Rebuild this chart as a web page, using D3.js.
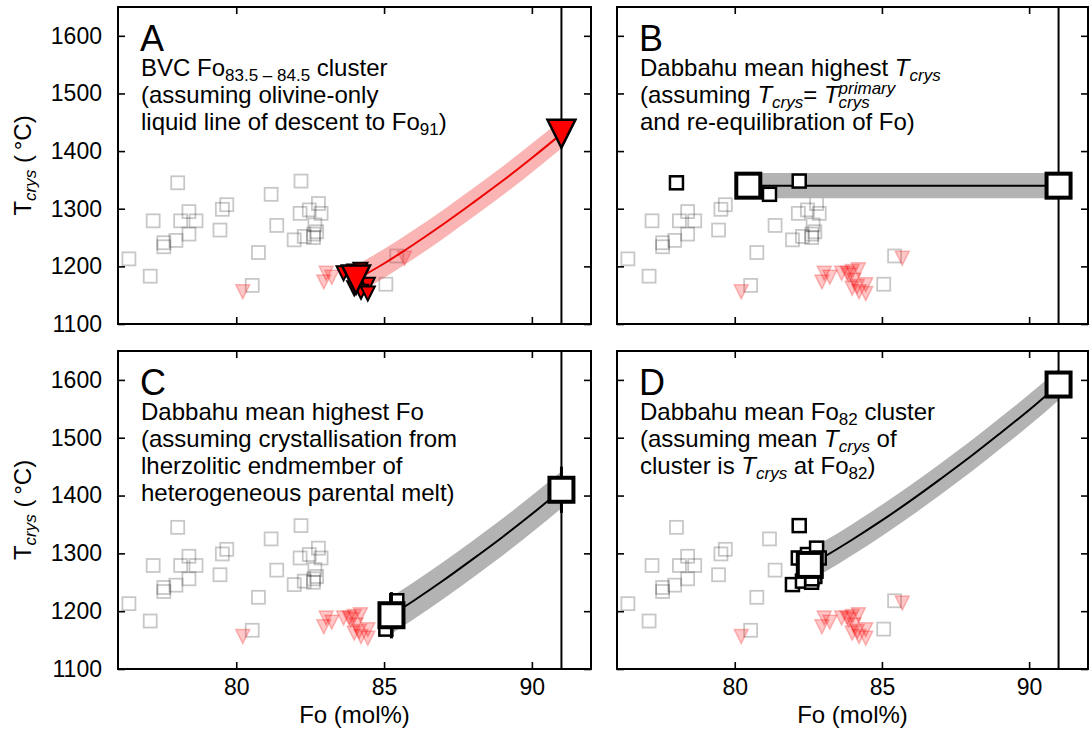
<!DOCTYPE html>
<html><head><meta charset="utf-8">
<script src="https://cdn.jsdelivr.net/npm/d3@7"></script>
<style>body{margin:0;background:#fff} svg{display:block} text{font-family:"Liberation Sans", Arial, Helvetica, sans-serif;fill:#000}</style>
</head><body><svg id="c" width="1091" height="740"></svg>
<script>
// ---------- data ----------
const foTicks = [80, 85, 90];
const tTicks = [1100, 1200, 1300, 1400, 1500, 1600];
const foDomain = [76, 92];
const tDomain = [1100, 1650];
const foPrimary = 91;

// Dabbahu olivine (grey squares)
const dabFo = [78.02, 82.19, 81.18, 77.19, 78.40, 78.12, 78.64, 79.68, 79.53, 78.40, 77.96, 77.55, 77.55, 79.45, 81.37, 80.75, 76.37, 77.09, 80.54, 82.16, 82.47, 82.78, 82.87, 81.96, 82.30, 82.61, 82.72, 82.66, 82.62, 85.06, 85.43];
const dabT  = [1345, 1348, 1325, 1279, 1295, 1279, 1279, 1307, 1299, 1256, 1245, 1241, 1234, 1263, 1271, 1224, 1213, 1183, 1167, 1292, 1298, 1309, 1292, 1246, 1252, 1250, 1260, 1272, 1256, 1169, 1218];
// BVC olivine (red triangles)
const bvcFo = [80.22, 85.69, 83.04, 82.96, 83.23, 83.63, 83.88, 83.99, 84.20, 84.05, 84.16, 84.45, 83.99, 84.22, 84.45, 83.82];
const bvcT  = [1156, 1214, 1188, 1173, 1181, 1188, 1185, 1191, 1194, 1176, 1165, 1168, 1162, 1156, 1153, 1188];

// Panel A: BVC Fo83.5-84.5 cluster
const aClusterFo = [83.5, 84.5];
const aEndFo = [84.05, 91];
const aEndT = [1177, 1430];
const aCurveFo = [84.05, 85, 86, 87, 88, 89, 90, 91];
const aCurveT = [1177, 1205, 1238, 1273, 1310, 1348, 1388, 1430];
const aBand = 25;

// Panel B: Dabbahu mean highest Tcrys
const bMinT = 1320;
const bEndFo = [80.46, 91];
const bEndT = [1340, 1340];
const bBand = 22;

// Panel C: Dabbahu mean highest Fo
const cMinFo = 85;
const cEndFo = [85.25, 91];
const cEndT = [1193, 1410];
const cErr = 40;
const cCurveFo = [85.25, 86, 87, 88, 89, 90, 91];
const cCurveT = [1193, 1218, 1253, 1290, 1328, 1368, 1410];
const cBand = 32;

// Panel D: Dabbahu mean Fo82 cluster
const dClusterFo = [81.8, 83];
const dEndFo = [82.55, 91];
const dEndT = [1280, 1592];
const dCurveFo = [82.55, 83, 84, 85, 86, 87, 88, 89, 90, 91];
const dCurveT = [1280, 1293, 1324, 1357, 1392, 1429, 1467, 1507, 1548, 1592];
const dBand = 27;

// ---------- layout ----------
const svg = d3.select('#c');
const cols = [[118, 591], [617, 1088]];
const rows = [[7, 324], [351, 669]];
const FS = 24, TFS = 23;

function panel(ci, ri) {
  const x = d3.scaleLinear().domain(foDomain).range(cols[ci]);
  const y = d3.scaleLinear().domain(tDomain).range([rows[ri][1], rows[ri][0]]);
  const g = svg.append('g');
  const clipId = 'clip' + ci + ri;
  svg.append('clipPath').attr('id', clipId).append('rect')
    .attr('x', cols[ci][0]).attr('y', rows[ri][0])
    .attr('width', cols[ci][1] - cols[ci][0]).attr('height', rows[ri][1] - rows[ri][0]);
  const plot = g.append('g').attr('clip-path', `url(#${clipId})`);
  return {x, y, g, plot, ci, ri};
}

function tri(w) {
  const p = d3.path();
  p.moveTo(-w / 2, -w / 2); p.lineTo(w / 2, -w / 2); p.lineTo(0, w / 2); p.closePath();
  return p.toString();
}

function background(P) {
  const {x, y, plot} = P;
  plot.selectAll(null).data(d3.range(dabFo.length)).join('rect')
    .attr('x', i => x(dabFo[i]) - 6.5).attr('y', i => y(dabT[i]) - 6.5)
    .attr('width', 13).attr('height', 13)
    .attr('fill', 'none').attr('stroke', '#000').attr('stroke-opacity', 0.22).attr('stroke-width', 1.8);
  plot.selectAll(null).data(d3.range(bvcFo.length)).join('path')
    .attr('d', tri(14))
    .attr('transform', i => `translate(${x(bvcFo[i])},${y(bvcT[i])})`)
    .attr('fill', '#f00').attr('fill-opacity', 0.22)
    .attr('stroke', '#e00').attr('stroke-opacity', 0.25).attr('stroke-width', 1.5);
}

function band(P, fo, t, half, fill) {
  const {x, y, plot} = P;
  const idx = d3.range(fo.length);
  plot.append('path').datum(idx)
    .attr('d', d3.area().x(i => x(fo[i])).y0(i => y(t[i] - half)).y1(i => y(t[i] + half)).curve(d3.curveMonotoneX))
    .attr('fill', fill);
}
function curve(P, fo, t, color) {
  const {x, y, plot} = P;
  plot.append('path').datum(d3.range(fo.length))
    .attr('d', d3.line().x(i => x(fo[i])).y(i => y(t[i])).curve(d3.curveMonotoneX))
    .attr('fill', 'none').attr('stroke', color).attr('stroke-width', 2);
}
function vline(P) {
  const {x, y, plot} = P;
  plot.append('line').attr('x1', x(foPrimary)).attr('x2', x(foPrimary))
    .attr('y1', y(tDomain[0])).attr('y2', y(tDomain[1]))
    .attr('stroke', '#000').attr('stroke-width', 2);
}
function hiSquares(P, idx) {
  const {x, y, plot} = P;
  plot.selectAll(null).data(idx).join('rect')
    .attr('x', i => x(dabFo[i]) - 6.5).attr('y', i => y(dabT[i]) - 6.5)
    .attr('width', 13).attr('height', 13)
    .attr('fill', '#fff').attr('stroke', '#000').attr('stroke-width', 2.5);
}
function bigSquares(P, fo, t, err) {
  const {x, y, plot} = P;
  if (err) {
    plot.selectAll(null).data(d3.range(fo.length)).join('line')
      .attr('x1', i => x(fo[i])).attr('x2', i => x(fo[i]))
      .attr('y1', i => y(t[i] - err)).attr('y2', i => y(t[i] + err))
      .attr('stroke', '#000').attr('stroke-width', 3);
  }
  plot.selectAll(null).data(d3.range(fo.length)).join('rect')
    .attr('x', i => x(fo[i]) - 12).attr('y', i => y(t[i]) - 12)
    .attr('width', 24).attr('height', 24)
    .attr('fill', '#fff').attr('stroke', '#000').attr('stroke-width', 4);
}

function axes(P, showX, showY) {
  const {x, y, g, ci, ri} = P;
  const [x0, x1] = cols[ci], [y0, y1] = rows[ri];
  const fmt = d3.format('d');
  const ax = [
    [d3.axisBottom(x).tickValues(foTicks).tickSize(-7).tickPadding(10).tickFormat(showX ? fmt : () => ''), `translate(0,${y1})`],
    [d3.axisTop(x).tickValues(foTicks).tickSize(-7).tickFormat(() => ''), `translate(0,${y0})`],
    [d3.axisLeft(y).tickValues(tTicks).tickSize(-7).tickPadding(16).tickFormat(showY ? fmt : () => ''), `translate(${x0},0)`],
    [d3.axisRight(y).tickValues(tTicks).tickSize(-7).tickFormat(() => ''), `translate(${x1},0)`]
  ];
  ax.forEach(([a, tr]) => {
    const s = g.append('g').attr('transform', tr).call(a);
    s.select('.domain').remove();
    s.selectAll('.tick line').attr('stroke', '#000').attr('stroke-width', 1.6);
    s.selectAll('.tick text').attr('font-size', TFS).attr('font-family', '"Liberation Sans", Arial, sans-serif').attr('fill', '#000');
  });
  g.append('rect').attr('x', x0).attr('y', y0).attr('width', x1 - x0).attr('height', y1 - y0)
    .attr('fill', 'none').attr('stroke', '#000').attr('stroke-width', 2);
}

function rich(g, x, y, segs) {
  const t = g.append('text').attr('x', x).attr('y', y).attr('font-size', FS);
  let off = 0;
  segs.forEach(s => {
    if (typeof s === 'string') s = {t: s};
    const target = s.sub ? 5 : (s.sup ? -9 : 0);
    const sp = t.append('tspan').text(s.t)
      .attr('dy', target - off)
      .attr('font-size', (s.sub || s.sup) ? 17 : FS)
      .attr('font-style', s.it ? 'italic' : 'normal');
    off = target;
    if (s.stack) {
      const w = sp.node().getComputedTextLength();
      t.append('tspan').text(s.stack).attr('dx', -w).attr('dy', 5 - off)
        .attr('font-size', 17).attr('font-style', 'italic');
      off = 5;
    }
  });
  return t;
}

function label(P, letter, lines) {
  const {g, ci, ri} = P;
  const x0 = cols[ci][0] + 23, y0 = rows[ri][0];
  g.append('text').attr('x', x0 - 1).attr('y', y0 + 44).attr('font-size', 36).text(letter);
  lines.forEach((l, k) => rich(g, x0, y0 + 69 + 27 * k, l));
}

const Tc = [{t: 'T', it: true}, {t: 'crys', sub: true, it: true}];

// ---------- Panel A ----------
{
  const P = panel(0, 0);
  background(P);
  band(P, aCurveFo, aCurveT, aBand, 'rgba(240,40,40,0.35)');
  curve(P, aCurveFo, aCurveT, '#e00');
  vline(P);
  const idx = d3.range(bvcFo.length).filter(i => bvcFo[i] >= aClusterFo[0] && bvcFo[i] <= aClusterFo[1]);
  P.plot.selectAll(null).data(idx).join('path').attr('d', tri(14))
    .attr('transform', i => `translate(${P.x(bvcFo[i])},${P.y(bvcT[i])})`)
    .attr('fill', '#f00').attr('stroke', '#000').attr('stroke-width', 2);
  P.plot.selectAll(null).data(d3.range(aEndFo.length)).join('path').attr('d', tri(28))
    .attr('transform', i => `translate(${P.x(aEndFo[i])},${P.y(aEndT[i])})`)
    .attr('fill', '#f00').attr('stroke', '#000').attr('stroke-width', 2.5);
  axes(P, false, true);
  label(P, 'A', [
    ['BVC Fo', {t: '83.5 \u2013 84.5', sub: true}, ' cluster'],
    ['(assuming olivine-only'],
    ['liquid line of descent to Fo', {t: '91', sub: true}, ')']
  ]);
}
// ---------- Panel B ----------
{
  const P = panel(1, 0);
  background(P);
  band(P, bEndFo, bEndT, bBand, '#b3b3b3');
  curve(P, bEndFo, bEndT, '#000');
  vline(P);
  hiSquares(P, d3.range(dabFo.length).filter(i => dabT[i] >= bMinT));
  bigSquares(P, bEndFo, bEndT, 0);
  axes(P, false, false);
  label(P, 'B', [
    ['Dabbahu mean highest ', ...Tc],
    ['(assuming ', ...Tc, '= ', {t: 'T', it: true}, {t: 'primary', sup: true, it: true, stack: 'crys'}],
    ['and re-equilibration of Fo)']
  ]);
}
// ---------- Panel C ----------
{
  const P = panel(0, 1);
  background(P);
  band(P, cCurveFo, cCurveT, cBand, '#b3b3b3');
  curve(P, cCurveFo, cCurveT, '#000');
  vline(P);
  hiSquares(P, d3.range(dabFo.length).filter(i => dabFo[i] >= cMinFo));
  bigSquares(P, cEndFo, cEndT, cErr);
  axes(P, true, true);
  label(P, 'C', [
    ['Dabbahu mean highest Fo'],
    ['(assuming crystallisation from'],
    ['lherzolitic endmember of'],
    ['heterogeneous parental melt)']
  ]);
}
// ---------- Panel D ----------
{
  const P = panel(1, 1);
  background(P);
  band(P, dCurveFo, dCurveT, dBand, '#b3b3b3');
  curve(P, dCurveFo, dCurveT, '#000');
  vline(P);
  hiSquares(P, d3.range(dabFo.length).filter(i => dabFo[i] >= dClusterFo[0] && dabFo[i] <= dClusterFo[1]));
  bigSquares(P, dEndFo, dEndT, 0);
  axes(P, true, false);
  label(P, 'D', [
    ['Dabbahu mean Fo', {t: '82', sub: true}, ' cluster'],
    ['(assuming mean ', ...Tc, ' of'],
    ['cluster is ', ...Tc, ' at Fo', {t: '82', sub: true}, ')']
  ]);
}

// ---------- axis titles ----------
rows.forEach(r => {
  const cy = (r[0] + r[1]) / 2;
  const t = svg.append('text').attr('transform', `translate(31,${cy}) rotate(-90)`)
    .attr('text-anchor', 'middle').attr('font-size', FS);
  t.append('tspan').text('T');
  t.append('tspan').text('crys').attr('font-size', 17).attr('font-style', 'italic').attr('dy', 5);
  t.append('tspan').text(' (\u2009\u00B0C)').attr('dy', -5);
});
cols.forEach(c => {
  svg.append('text').attr('x', (c[0] + c[1]) / 2).attr('y', 723)
    .attr('text-anchor', 'middle').attr('font-size', FS).text('Fo (mol%)');
});
</script></body></html>
